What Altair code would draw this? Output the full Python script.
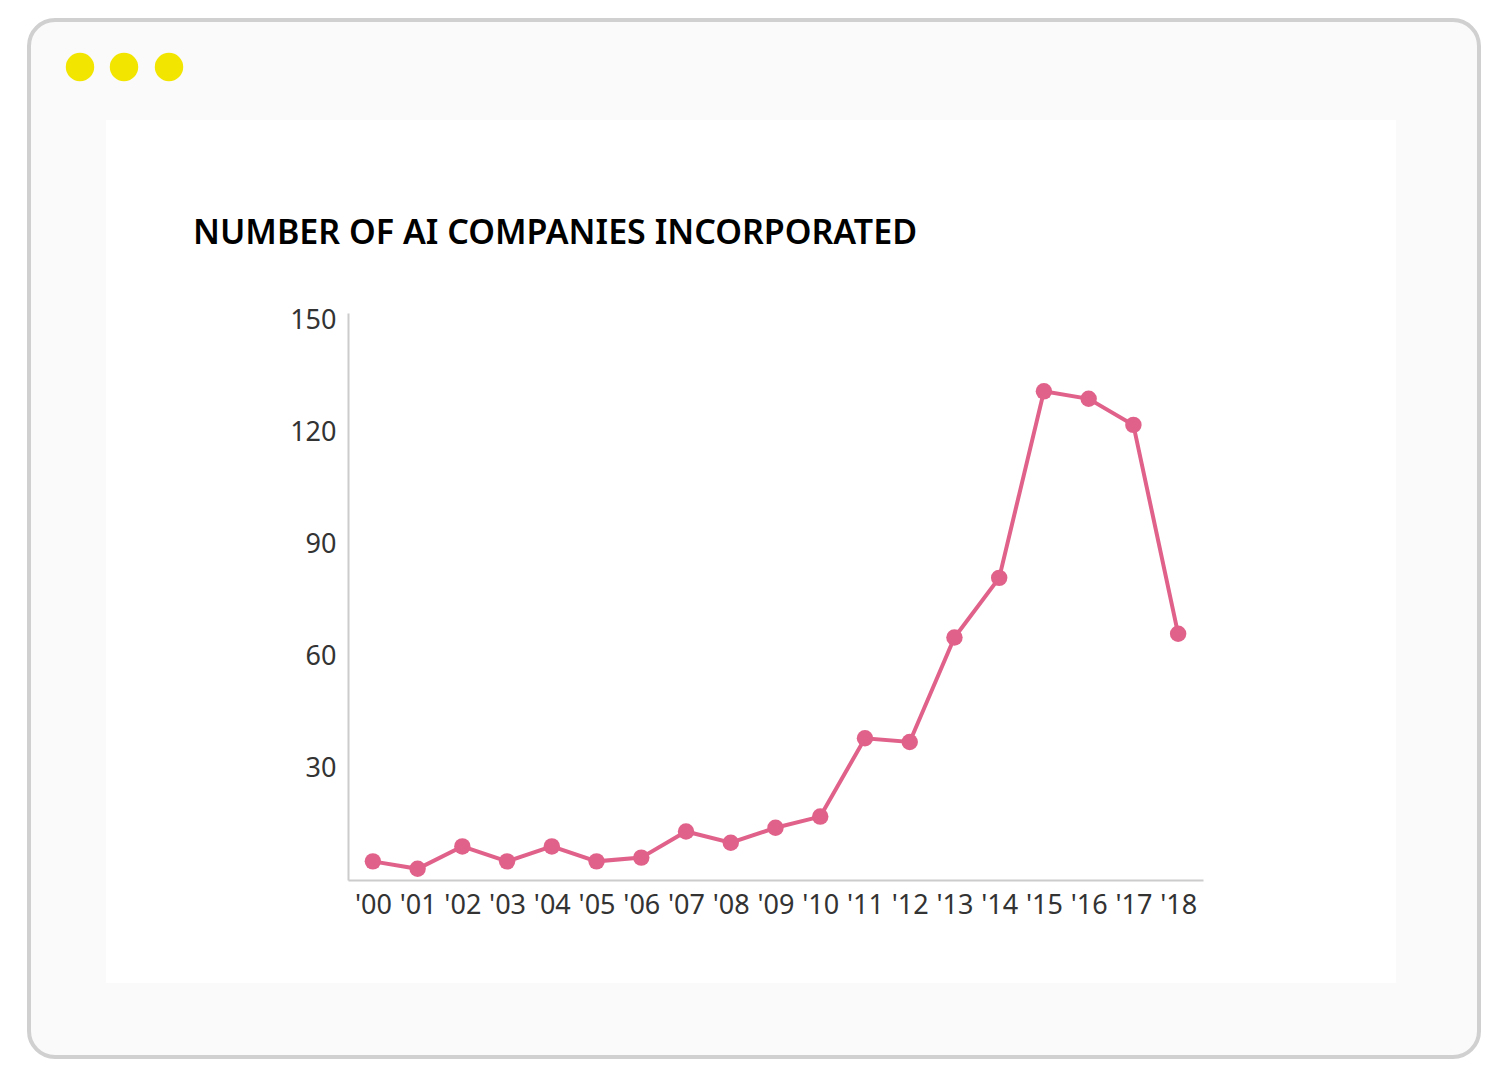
import altair as alt
import pandas as pd

# values
years = ["'00", "'01", "'02", "'03", "'04", "'05", "'06", "'07", "'08", "'09",
         "'10", "'11", "'12", "'13", "'14", "'15", "'16", "'17", "'18"]
companies = [5, 3, 9, 5, 9, 5, 6, 13, 10, 14, 17, 38, 37, 65, 81, 131, 129, 122, 66]
y_ticks = [30, 60, 90, 120, 150]
title_text = "NUMBER OF AI COMPANIES INCORPORATED"

df = pd.DataFrame({"year": years, "count": companies})
one = pd.DataFrame({"k": [0]})

PINK = "#e0628a"
W, H = 855, 567

# browser-window decoration (pixels relative to the plot area origin)
frame = alt.Chart(one).mark_rect(
    fill="#fafafa", stroke="#d0d0d0", strokeWidth=4, cornerRadius=26
).encode(x=alt.value(-319), x2=alt.value(1131), y=alt.value(-293), y2=alt.value(744))

panel = alt.Chart(one).mark_rect(fill="white").encode(
    x=alt.value(-242), x2=alt.value(1048), y=alt.value(-193), y2=alt.value(670)
)

dots = [
    alt.Chart(one).mark_circle(color="#f2e600", opacity=1, size=810).encode(
        x=alt.value(cx), y=alt.value(-246)
    )
    for cx in (-268, -224, -179)
]

title = alt.Chart(one).mark_text(
    text=title_text, font="Noto Sans", fontSize=34, fontWeight=600,
    align="left", baseline="alphabetic", color="#000"
).encode(x=alt.value(-155), y=alt.value(-69))

base = alt.Chart(df).encode(
    x=alt.X("year:O", sort=years, title=None,
            scale=alt.Scale(type="point", padding=0.556),
            axis=alt.Axis(labelAngle=0, ticks=False, grid=False, zindex=1)),
    y=alt.Y("count:Q", title=None,
            scale=alt.Scale(domain=[0, 152], nice=False, zero=True),
            axis=alt.Axis(values=y_ticks, ticks=False, grid=False, zindex=1)),
)

line = base.mark_line(color=PINK, strokeWidth=4)
points = base.mark_circle(color=PINK, opacity=1, size=270)

chart = alt.layer(frame, panel, *dots, title, line, points).properties(
    width=W, height=H,
    autosize=alt.AutoSizeParams(type="none"),
    padding={"left": 340, "top": 305, "right": 289, "bottom": 191},
).configure_view(stroke=None).configure_axis(
    domainColor="#cccccc", domainWidth=2,
    labelFont="Noto Sans", labelFontSize=27, labelColor="#333333",
).configure_axisX(labelPadding=12).configure_axisY(labelPadding=12)

chart.save("out.html", embed_options={"renderer": "svg", "actions": False})
